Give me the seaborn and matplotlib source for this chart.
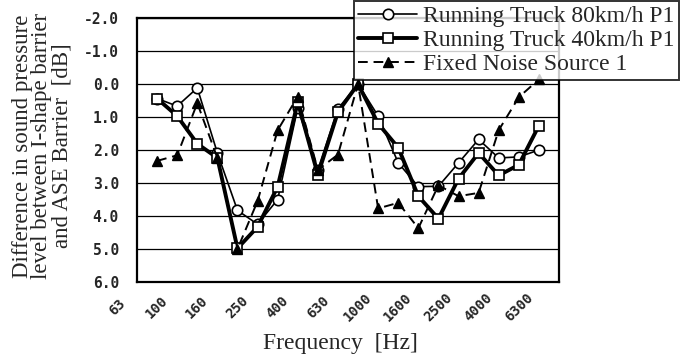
import numpy as np
import pandas as pd
import matplotlib
matplotlib.use("Agg")
import matplotlib.pyplot as plt
import matplotlib.transforms as mtransforms
import seaborn as sns

# ---- data ----
all_bands = [63, 80, 100, 125, 160, 200, 250, 315, 400, 500, 630, 800, 1000,
             1250, 1600, 2000, 2500, 3150, 4000, 5000, 6300, 8000, 10000]
freqs = [100, 125, 160, 200, 250, 315, 400, 500, 630, 800, 1000,
         1250, 1600, 2000, 2500, 3150, 4000, 5000, 6300, 8000]
truck80 = [0.44, 0.67, 0.12, 2.09, 3.83, 4.25, 3.50, 0.72, 2.60, 0.75,
           0.00, 0.97, 2.39, 3.11, 3.10, 2.39, 1.68, 2.24, 2.21, 2.00]
truck40 = [0.44, 0.97, 1.81, 2.24, 4.98, 4.33, 3.11, 0.55, 2.75, 0.85,
           0.00, 1.20, 1.93, 3.40, 4.08, 2.87, 2.09, 2.77, 2.45, 1.26]
fixed1 = [2.33, 2.16, 0.58, 2.24, 5.00, 3.55, 1.40, 0.38, 2.60, 2.14,
          0.00, 3.77, 3.60, 4.37, 3.07, 3.40, 3.30, 1.40, 0.40, -0.14]
tick_labels = ["63", "100", "160", "250", "400", "630", "1000", "1600",
               "2500", "4000", "6300"]
series_names = ["Running Truck 80km/h P1", "Running Truck 40km/h P1",
                "Fixed Noise Source 1"]
ylabel = "Difference in sound pressure\nlevel between I-shape barrier\nand ASE Barrier  [dB]"
xlabel = "Frequency  [Hz]"

def pos(f):
    return all_bands.index(f) - 1

x = [pos(f) for f in freqs]
df = pd.DataFrame({
    "x": x * 3,
    "y": truck80 + truck40 + fixed1,
    "series": [series_names[0]] * len(x) + [series_names[1]] * len(x) + [series_names[2]] * len(x),
})

sns.set_style("white")
plt.rcParams["font.family"] = ["Liberation Serif", "DejaVu Serif"]
plt.rcParams["axes.unicode_minus"] = False
tickfont = ["DejaVu Sans Mono", "DejaVu Sans"]

fig = plt.figure(figsize=(6.81, 3.60), dpi=100)
ax = fig.add_axes([137 / 681, 1 - 282 / 360, (559 - 137) / 681, (282 - 18) / 360])

styles = {
    series_names[0]: dict(lw=1.2, ls="-", marker="o", mfc="white", ms=7.5, mew=1.2),
    series_names[1]: dict(lw=2.8, ls="-", marker="s", mfc="white", ms=7, mew=1.2),
    series_names[2]: dict(lw=1.4, ls=(0, (5, 3)), marker="^", mfc="black", ms=7, mew=1.0),
}
for i, name in enumerate(series_names):
    st = styles[name]
    sub = df[df["series"] == name]
    sns.lineplot(data=sub, x="x", y="y", ax=ax, color="black", lw=st["lw"],
                 linestyle=st["ls"], marker=st["marker"], markerfacecolor=st["mfc"],
                 markeredgecolor="black", markersize=st["ms"], markeredgewidth=st["mew"],
                 label=name, zorder=3 + i)

ax.set_ylim(6.0, -2.0)
ax.set_xlim(0, len(all_bands) - 2)
ax.set_yticks(np.arange(-2, 7, 1.0))
ax.set_yticklabels([f"{v:.1f}" for v in np.arange(-2, 7, 1.0)],
                   family=tickfont, fontsize=10.5, fontweight="bold")
ax.tick_params(axis="y", length=0, pad=13)
ax.yaxis.grid(True, color="black", lw=0.9)
ax.set_xticks(range(0, len(all_bands) - 1))
ax.set_xticklabels([])
ax.tick_params(axis="x", direction="in", length=4, width=1, color="black")
for s in ax.spines.values():
    s.set_color("black")
    s.set_linewidth(1.6)

trans = mtransforms.blended_transform_factory(ax.transData, ax.transAxes)
for lab in tick_labels:
    ax.text(pos(int(lab)), -0.095, lab, transform=trans, rotation=45,
            ha="center", va="center", fontsize=10, fontweight="bold",
            family=tickfont, clip_on=False)

ax.set_xlabel("")
ax.set_ylabel("")
fig.text(340 / 681, 1 - 349 / 360, xlabel, ha="center", va="baseline", fontsize=17)
fig.text(42 / 681, 1 - 146 / 360, ylabel, ha="center", va="center", rotation=90,
         fontsize=16.5, linespacing=0.92, multialignment="center")

leg = ax.legend(loc="upper left", bbox_to_anchor=(354 / 681, 1 - 1 / 360),
                bbox_transform=fig.transFigure, frameon=True, fancybox=False,
                fontsize=17, handlelength=2.5, labelspacing=0.12, borderpad=0.18,
                handletextpad=0.25, borderaxespad=0)
leg.get_frame().set_edgecolor("black")
leg.get_frame().set_linewidth(1.4)
leg.set_zorder(10)

fig.savefig("out.png", dpi=100)
